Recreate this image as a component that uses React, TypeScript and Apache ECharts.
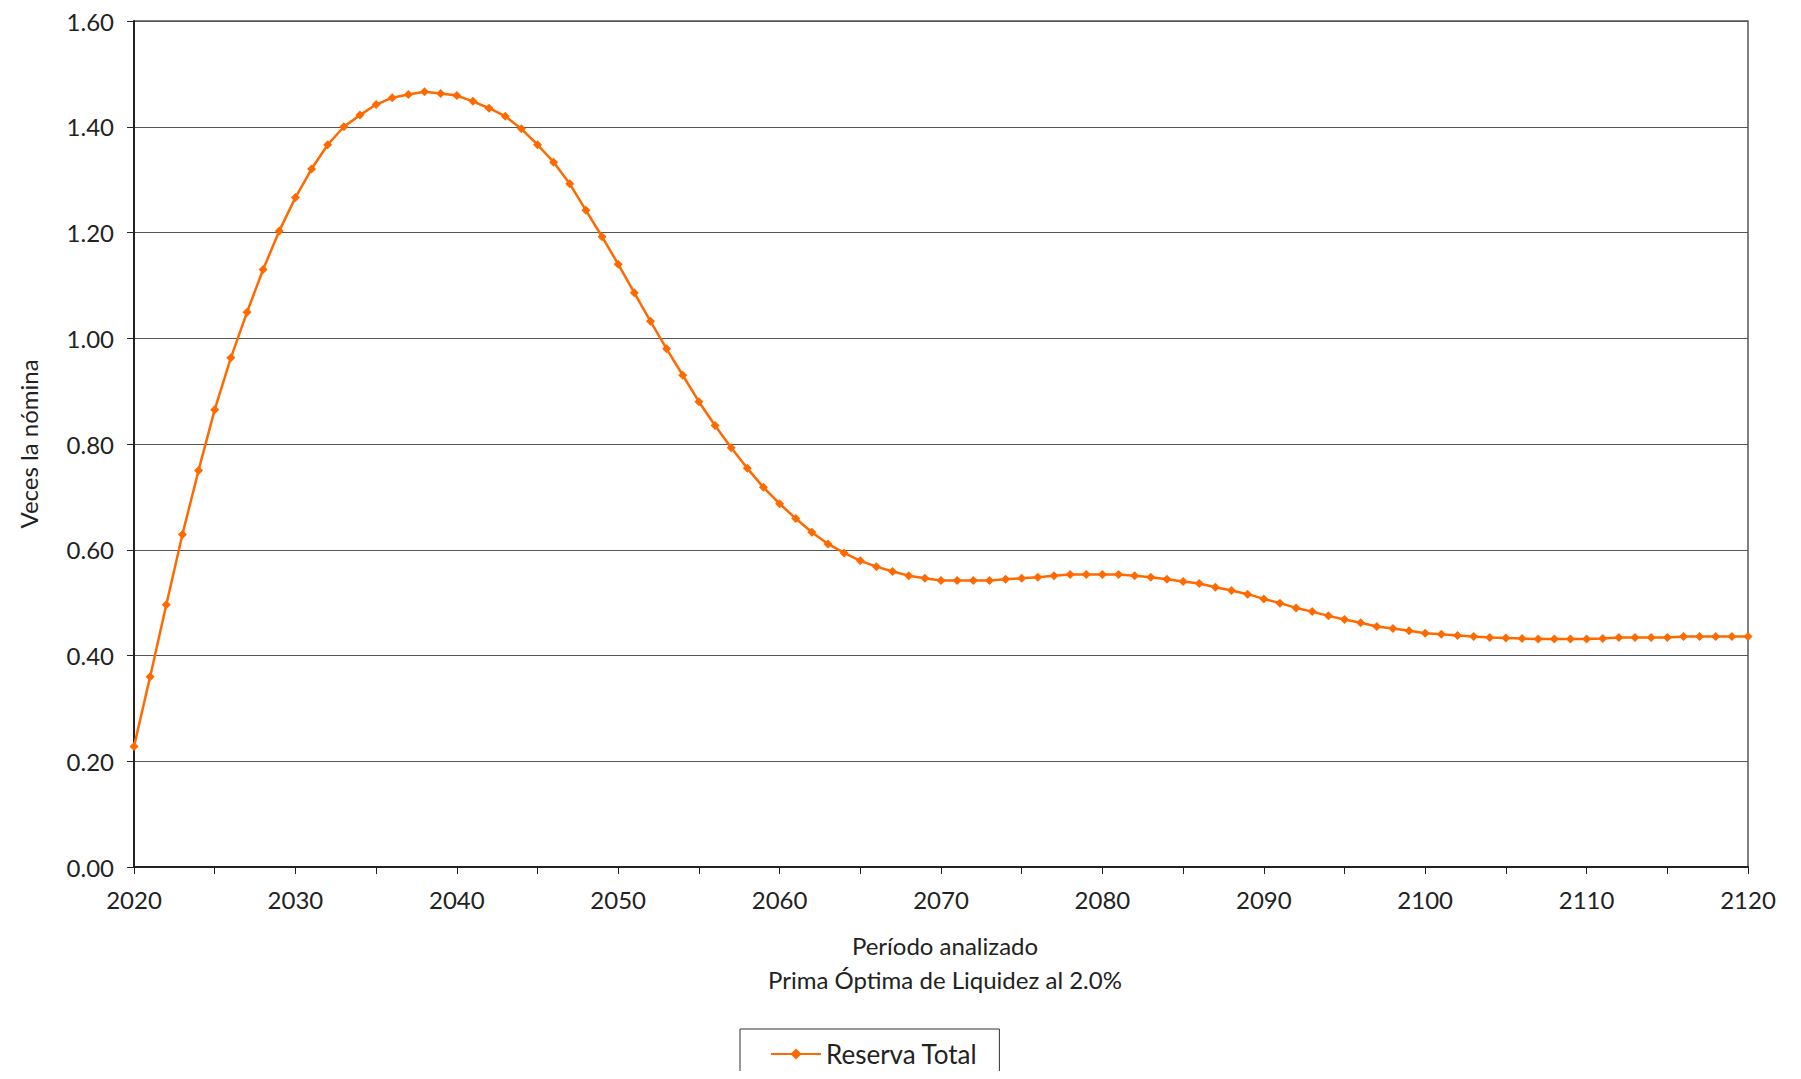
import { useEffect, useRef } from 'react';
import * as echarts from 'echarts';

const years: string[] = [];
for (let y = 2020; y <= 2120; y++) years.push(String(y));

const reservaTotal = [
  0.228, 0.36, 0.496, 0.629, 0.75, 0.865, 0.963, 1.049, 1.13, 1.203,
  1.266, 1.32, 1.366, 1.4, 1.422, 1.442, 1.455, 1.461, 1.466, 1.463,
  1.459, 1.448, 1.435, 1.42, 1.396, 1.366, 1.333, 1.292, 1.242, 1.192,
  1.14, 1.086, 1.032, 0.98, 0.93, 0.88, 0.835, 0.793, 0.754, 0.718,
  0.687, 0.659, 0.633, 0.611, 0.594, 0.579, 0.568, 0.559, 0.551, 0.546,
  0.542, 0.542, 0.542, 0.542, 0.544, 0.546, 0.548, 0.551, 0.553, 0.553,
  0.553, 0.553, 0.551, 0.548, 0.544, 0.54, 0.536, 0.529, 0.523, 0.516,
  0.507, 0.499, 0.49, 0.483, 0.475, 0.468, 0.462, 0.455, 0.451, 0.447,
  0.442, 0.44, 0.438, 0.436, 0.434, 0.433, 0.432, 0.431, 0.431, 0.431,
  0.431, 0.432, 0.434, 0.434, 0.434, 0.434, 0.436, 0.436, 0.436, 0.436,
  0.436,
];

const FONT = 'Lato, "DejaVu Sans", sans-serif';

export default function App() {
  const ref = useRef<HTMLDivElement>(null);

  useEffect(() => {
    if (!ref.current) return;
    const chart = echarts.init(ref.current, undefined, { renderer: 'svg' });
    chart.setOption({
      animation: false,
      textStyle: { fontFamily: FONT, color: '#222' },
      grid: { left: 120, right: 45, top: 13, bottom: 204, show: true, borderColor: '#555', borderWidth: 1.5 },
      xAxis: {
        type: 'category',
        data: years,
        boundaryGap: false,
        axisLine: { lineStyle: { color: '#222', width: 2 } },
        axisTick: { interval: 4, length: 7, lineStyle: { color: '#222' } },
        axisLabel: { interval: 9, fontSize: 24, color: '#222', margin: 20, fontFamily: FONT },
      },
      yAxis: {
        type: 'value',
        min: 0,
        max: 1.6,
        interval: 0.2,
        name: 'Veces la nómina',
        nameLocation: 'middle',
        nameGap: 94,
        nameTextStyle: { fontSize: 24, color: '#222', fontFamily: FONT },
        axisLine: { show: true, lineStyle: { color: '#222', width: 2 } },
        axisTick: { show: true, length: 7, lineStyle: { color: '#222' } },
        axisLabel: { fontSize: 24, color: '#222', margin: 20, formatter: (v: number) => v.toFixed(2), fontFamily: FONT },
        splitLine: { lineStyle: { color: '#555', width: 1 } },
      },
      legend: {
        bottom: -22,
        left: 732,
        itemWidth: 50,
        itemHeight: 14,
        padding: [12, 22, 26, 30],
        borderColor: '#333',
        borderWidth: 1,
        textStyle: { fontSize: 26, color: '#222', fontFamily: FONT },
        data: ['Reserva Total'],
      },
      graphic: [
        { type: 'text', x: 937, y: 925, style: { text: 'Período analizado', fontSize: 24, fill: '#222', fontFamily: FONT, align: 'center' } },
        { type: 'text', x: 937, y: 959, style: { text: 'Prima Óptima de Liquidez al 2.0%', fontSize: 24, fill: '#222', fontFamily: FONT, align: 'center' } },
      ],
      series: [
        {
          name: 'Reserva Total',
          type: 'line',
          data: reservaTotal,
          symbol: 'diamond',
          symbolSize: 9,
          lineStyle: { color: '#ff6a00', width: 2.5 },
          itemStyle: { color: '#ff6a00' },
        },
      ],
    });
    return () => chart.dispose();
  }, []);

  return <div ref={ref} style={{ width: 1785, height: 1063 }} />;
}
